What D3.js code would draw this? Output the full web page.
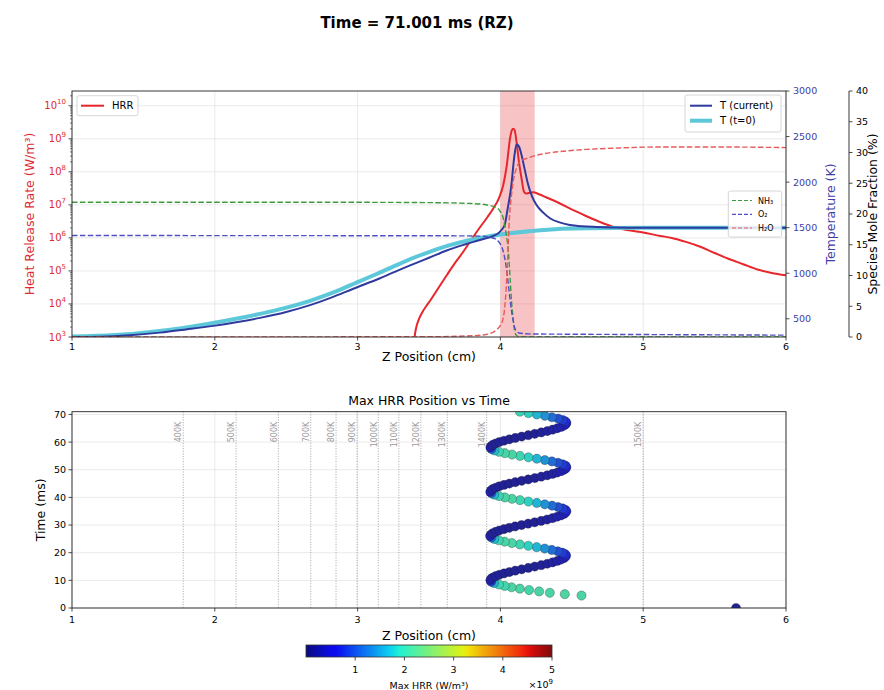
<!DOCTYPE html>
<html><head><meta charset="utf-8">
<script src="https://cdn.jsdelivr.net/npm/d3@7"></script>
<style>body{margin:0;background:#fff;} text{font-family:"DejaVu Sans",sans-serif;}</style>
</head><body><svg id="c" width="884" height="690"></svg>
<script>
// ---------------- DATA ----------------
const zHRR = [3.3995,3.400,3.403,3.408,3.415,3.425,3.44,3.46,3.48,3.51,3.56,3.624,3.68,3.74,3.80,3.857,3.91,3.95,3.99,4.02,4.045,4.067,4.08,4.09,4.10,4.113,4.13,4.148,4.165,4.18,4.20,4.23,4.27,4.32,4.40,4.51,4.60,4.70,4.80,4.90,5.00,5.12,5.20,5.30,5.40,5.50,5.60,5.70,5.80,5.90,6.00];
const hrrVal = [7e2,1e3,1.3e3,1.75e3,2.3e3,3.1e3,4.4e3,6.3e3,8.5e3,1.3e4,2.8e4,7.4e4,1.7e5,3.8e5,9.3e5,2.1e6,4.3e6,7.8e6,1.6e7,4.0e7,1.6e8,1.0e9,1.8e9,2.0e9,1.8e9,8.1e8,2.0e8,6.3e7,2.5e7,2.2e7,2.3e7,2.4e7,2.1e7,1.7e7,1.2e7,6.9e6,4.6e6,3.0e6,2.1e6,1.7e6,1.45e6,1.15e6,1.0e6,7.6e5,5.4e5,3.5e5,2.3e5,1.6e5,1.1e5,8.7e4,7.4e4];

const zTcur = [1.0,1.2,1.4,1.616,1.8,1.99,2.15,2.316,2.5,2.667,2.82,2.97,3.157,3.297,3.39,3.5,3.624,3.75,3.857,3.95,3.985,4.01,4.03,4.05,4.077,4.095,4.113,4.13,4.148,4.17,4.195,4.22,4.253,4.3,4.347,4.42,4.487,4.57,4.67,4.8,5.0,6.0];
const tCur = [300,303,318,348,383,422,462,510,575,650,735,830,945,1040,1100,1170,1250,1315,1365,1410,1438,1480,1529,1700,1968,2250,2415,2390,2298,2140,1968,1850,1749,1665,1603,1555,1529,1515,1508,1503,1500,1500];

const zT0 = [1.0,1.3,1.779,2.149,2.445,2.672,2.849,2.996,3.145,3.289,3.443,3.628,3.904,4.2,4.5,5.0,6.0];
const tInit = [305,322,400,500,600,700,800,900,1000,1100,1200,1300,1400,1460,1490,1500,1500];

const zNH3 = [1.0,3.0,3.5,3.8,3.9,3.974,4.0,4.02,4.04,4.056,4.068,4.078,4.09,4.1,4.115,4.14,6.0];
const nh3 = [21.9,21.9,21.85,21.7,21.5,21.0,20.4,19.3,16.8,13.9,9.5,5.8,2.8,0.9,0.2,0.02,0.0];
const zO2 = [1.0,3.7,3.857,3.93,3.974,4.0,4.02,4.04,4.056,4.068,4.078,4.09,4.1,4.115,4.13,4.2,4.5,5.0,6.0];
const o2 = [16.5,16.45,16.4,16.2,15.8,15.1,13.9,11.5,8.5,6.0,4.2,2.6,1.5,0.9,0.65,0.5,0.45,0.4,0.3];
const zH2O = [1.0,3.5,3.8,3.9,3.974,4.0,4.02,4.032,4.042,4.052,4.063,4.075,4.09,4.11,4.137,4.18,4.23,4.33,4.44,4.6,4.79,5.12,5.5,6.0];
const h2o = [0.0,0.05,0.2,0.4,1.2,1.9,3.1,5.2,8.5,13.5,19.3,22.5,25.3,27.3,28.5,29.0,29.4,29.9,30.2,30.5,30.7,30.9,30.9,30.8];

const bandZ = [4.0, 4.24];

const isoLabels = ["400K","500K","600K","700K","800K","900K","1000K","1100K","1200K","1300K","1400K","1500K"];
const isoZ = [1.779,2.149,2.445,2.672,2.849,2.996,3.145,3.289,3.443,3.628,3.904,5.0];

const scatT = [0,
 4.5,5.0,5.5,6.0,6.5,7.0,7.5,8.0,8.5,9.0,9.5,
 10.0,10.5,11.0,11.5,12.0,12.5,13.0,13.5,14.0,14.5,15.0,15.5,16.0,16.5,17.0,17.5,18.0,18.5,
 19.0,19.5,20.0,20.5,21.0,21.5,22.0,22.5,23.0,23.5,24.0,24.5,25.0,25.5,
 26.0,26.5,27.0,27.5,28.0,28.5,29.0,29.5,30.0,30.5,31.0,31.5,32.0,32.5,33.0,33.5,34.0,34.5,
 35.0,35.5,36.0,36.5,37.0,37.5,38.0,38.5,39.0,39.5,40.0,40.5,41.0,41.5,
 42.0,42.5,43.0,43.5,44.0,44.5,45.0,45.5,46.0,46.5,47.0,47.5,48.0,48.5,49.0,49.5,50.0,50.5,
 51.0,51.5,52.0,52.5,53.0,53.5,54.0,54.5,55.0,55.5,56.0,56.5,57.0,57.5,
 58.0,58.5,59.0,59.5,60.0,60.5,61.0,61.5,62.0,62.5,63.0,63.5,64.0,64.5,65.0,65.5,66.0,66.5,
 67.0,67.5,68.0,68.5,69.0,69.5,70.0,70.5,71.0];
const scatZ = [5.65,
 4.568,4.451,4.346,4.271,4.201,4.136,4.078,4.030,3.990,3.955,3.935,
 3.930,3.934,3.946,3.966,3.992,4.025,4.063,4.104,4.149,4.195,4.241,4.286,4.328,4.365,4.398,4.424,4.444,4.456,
 4.460,4.453,4.434,4.402,4.360,4.310,4.254,4.195,4.136,4.080,4.030,3.988,3.957,3.937,
 3.928,3.933,3.945,3.965,3.991,4.024,4.062,4.103,4.148,4.194,4.240,4.285,4.327,4.364,4.397,4.424,4.445,4.457,
 4.462,4.455,4.436,4.404,4.362,4.311,4.255,4.196,4.137,4.081,4.031,3.989,3.957,3.937,
 3.929,3.934,3.946,3.966,3.992,4.025,4.063,4.104,4.149,4.195,4.241,4.286,4.328,4.365,4.398,4.425,4.446,4.458,
 4.462,4.455,4.436,4.404,4.361,4.311,4.255,4.196,4.137,4.081,4.031,3.989,3.958,3.938,
 3.930,3.934,3.946,3.966,3.992,4.025,4.063,4.104,4.149,4.195,4.241,4.286,4.328,4.365,4.398,4.425,4.446,4.458,
 4.462,4.455,4.436,4.404,4.361,4.311,4.255,4.196,4.137];
const scatHRR = [0.2e9,
 2.1e9,2.15e9,2.1e9,2.1e9,2.05e9,2.1e9,2.1e9,2.05e9,2.0e9,1.6e9,0.9e9,
 0.5e9,0.35e9,0.25e9,0.2e9,0.18e9,0.17e9,0.16e9,0.16e9,0.16e9,0.17e9,0.18e9,0.2e9,0.22e9,0.25e9,0.3e9,0.35e9,0.42e9,0.5e9,
 0.6e9,0.7e9,0.8e9,0.95e9,1.15e9,1.4e9,1.65e9,1.85e9,2.0e9,2.1e9,2.1e9,2.0e9,1.7e9,1.1e9,
 0.5e9,0.35e9,0.25e9,0.2e9,0.18e9,0.17e9,0.16e9,0.16e9,0.16e9,0.17e9,0.18e9,0.2e9,0.22e9,0.25e9,0.3e9,0.35e9,0.42e9,0.5e9,
 0.6e9,0.7e9,0.8e9,0.95e9,1.15e9,1.4e9,1.65e9,1.85e9,2.0e9,2.1e9,2.1e9,2.0e9,1.7e9,1.1e9,
 0.5e9,0.35e9,0.25e9,0.2e9,0.18e9,0.17e9,0.16e9,0.16e9,0.16e9,0.17e9,0.18e9,0.2e9,0.22e9,0.25e9,0.3e9,0.35e9,0.42e9,0.5e9,
 0.6e9,0.7e9,0.8e9,0.95e9,1.15e9,1.4e9,1.65e9,1.85e9,2.0e9,2.1e9,2.1e9,2.0e9,1.7e9,1.1e9,
 0.5e9,0.35e9,0.25e9,0.2e9,0.18e9,0.17e9,0.16e9,0.16e9,0.16e9,0.17e9,0.18e9,0.2e9,0.22e9,0.25e9,0.3e9,0.35e9,0.42e9,0.5e9,
 0.6e9,0.7e9,0.8e9,0.95e9,1.15e9,1.4e9,1.65e9,1.85e9,2.0e9];

const xTicks = [1,2,3,4,5,6];
const hrrDecades = [3,4,5,6,7,8,9,10];
const tempTicks = [500,1000,1500,2000,2500,3000];
const speciesTicks = [0,5,10,15,20,25,30,35,40];
const timeTicks = [0,10,20,30,40,50,60,70];
const cbTicks = [1e9,2e9,3e9,4e9,5e9];
const cbTickLabels = ["1","2","3","4","5"];

// ---------------- CHART ----------------
const svg = d3.select("#c");
const P1 = {l:72, r:786, t:91, b:337};
const P2 = {l:72, r:786, t:411.7, b:608};
const C_HRR = "#e8262b", C_HRR_TXT = "#dd2a30";
const C_TC = "#2e3a9e", C_T_TXT = "#3d3da8";
const C_T0 = "#5cc8d9";
const C_NH3 = "#3c9c3c", C_O2 = "#5050c4", C_H2O = "#e85a5a";
const GRID = "#e4e4e4";

const x1 = d3.scaleLinear().domain([1,6]).range([P1.l,P1.r]);
const yH = d3.scaleLog().domain([1e3,2.8e10]).range([P1.b,P1.t]);
const yT = d3.scaleLinear().domain([300,3000]).range([P1.b,P1.t]);
const yS = d3.scaleLinear().domain([0,40]).range([P1.b,P1.t]);
const x2 = d3.scaleLinear().domain([1,6]).range([P2.l,P2.r]);
const yt = d3.scaleLinear().domain([0,71.001]).range([P2.b,P2.t]);
const cb = d3.scaleLinear().domain([0,5e9]).range([306,552]);

const defs = svg.append("defs");
defs.append("clipPath").attr("id","cp1").append("rect")
  .attr("x",P1.l).attr("y",P1.t).attr("width",P1.r-P1.l).attr("height",P1.b-P1.t);
defs.append("clipPath").attr("id","cp2").append("rect")
  .attr("x",P2.l).attr("y",P2.t).attr("width",P2.r-P2.l).attr("height",P2.b-P2.t);

svg.append("text").attr("x",417).attr("y",28).attr("text-anchor","middle")
  .style("font-weight","bold").style("font-size","15px").text("Time = 71.001 ms (RZ)");

// ===== TOP PANEL =====
const g1 = svg.append("g");
g1.selectAll(".vg").data(xTicks).enter().append("line")
  .attr("x1",d=>x1(d)).attr("x2",d=>x1(d)).attr("y1",P1.t).attr("y2",P1.b)
  .attr("stroke",GRID).attr("stroke-width",0.8);
g1.selectAll(".hg").data(hrrDecades).enter().append("line")
  .attr("x1",P1.l).attr("x2",P1.r).attr("y1",d=>yH(Math.pow(10,d))).attr("y2",d=>yH(Math.pow(10,d)))
  .attr("stroke",GRID).attr("stroke-width",0.8);
g1.append("rect").attr("x",x1(bandZ[0])).attr("width",x1(bandZ[1])-x1(bandZ[0]))
  .attr("y",P1.t).attr("height",P1.b-P1.t).attr("fill","#e8383f").attr("fill-opacity",0.3);

const plot1 = g1.append("g").attr("clip-path","url(#cp1)");
function mkLine(xs, ys, ysc){
  return d3.line().x((d,i)=>x1(xs[i])).y((d,i)=>ysc(ys[i])).curve(d3.curveMonotoneX)(xs);
}
plot1.append("path").attr("d",mkLine(zHRR,hrrVal,yH)).attr("fill","none").attr("stroke",C_HRR).attr("stroke-width",2);
plot1.append("path").attr("d",mkLine(zT0,tInit,yT)).attr("fill","none").attr("stroke",C_T0).attr("stroke-width",4);
plot1.append("path").attr("d",mkLine(zTcur,tCur,yT)).attr("fill","none").attr("stroke",C_TC).attr("stroke-width",2);
const dash = "5.5,2.4";
plot1.append("path").attr("d",mkLine(zNH3,nh3,yS)).attr("fill","none").attr("stroke",C_NH3).attr("stroke-width",1.4).attr("stroke-dasharray",dash);
plot1.append("path").attr("d",mkLine(zO2,o2,yS)).attr("fill","none").attr("stroke",C_O2).attr("stroke-width",1.4).attr("stroke-dasharray",dash);
plot1.append("path").attr("d",mkLine(zH2O,h2o,yS)).attr("fill","none").attr("stroke",C_H2O).attr("stroke-width",1.4).attr("stroke-dasharray",dash);

g1.append("rect").attr("x",P1.l).attr("y",P1.t).attr("width",P1.r-P1.l).attr("height",P1.b-P1.t)
  .attr("fill","none").attr("stroke","#222").attr("stroke-width",0.9);

xTicks.forEach(v=>{
  g1.append("line").attr("x1",x1(v)).attr("x2",x1(v)).attr("y1",P1.b).attr("y2",P1.b+3.5).attr("stroke","#222").attr("stroke-width",0.8);
  g1.append("text").attr("x",x1(v)).attr("y",P1.b+13).attr("text-anchor","middle").style("font-size","9.5px").text(v);
});
g1.append("text").attr("x",(P1.l+P1.r)/2).attr("y",P1.b+24).attr("text-anchor","middle").style("font-size","12.5px").text("Z Position (cm)");

hrrDecades.forEach(p=>{
  const y = yH(Math.pow(10,p));
  g1.append("line").attr("x1",P1.l-3.5).attr("x2",P1.l).attr("y1",y).attr("y2",y).attr("stroke","#222").attr("stroke-width",0.8);
  const t = g1.append("text").attr("x",P1.l-6).attr("y",y+3.5).attr("text-anchor","end").attr("fill",C_HRR_TXT).style("font-size","10px");
  t.append("tspan").text("10");
  t.append("tspan").attr("dy",-5).style("font-size","7px").text(p);
  for(let m=2;m<=9;m++){
    const v = m*Math.pow(10,p);
    if(v<=2.8e10){
      const ym = yH(v);
      g1.append("line").attr("x1",P1.l-2).attr("x2",P1.l).attr("y1",ym).attr("y2",ym).attr("stroke","#222").attr("stroke-width",0.6);
    }
  }
});
g1.append("text").attr("transform",`translate(34,${(P1.t+P1.b)/2}) rotate(-90)`).attr("text-anchor","middle")
  .attr("fill",C_HRR_TXT).style("font-size","12.5px").text("Heat Release Rate (W/m³)");

tempTicks.forEach(v=>{
  const y = yT(v);
  g1.append("line").attr("x1",P1.r).attr("x2",P1.r+3.5).attr("y1",y).attr("y2",y).attr("stroke","#222").attr("stroke-width",0.8);
  g1.append("text").attr("x",P1.r+7).attr("y",y+3.4).attr("fill",C_T_TXT).style("font-size","9.5px").text(v);
});
g1.append("text").attr("transform",`translate(835,${(P1.t+P1.b)/2}) rotate(-90)`).attr("text-anchor","middle")
  .attr("fill",C_T_TXT).style("font-size","12.5px").text("Temperature (K)");

const sx = 849;
g1.append("line").attr("x1",sx).attr("x2",sx).attr("y1",P1.t).attr("y2",P1.b).attr("stroke","#222").attr("stroke-width",0.9);
speciesTicks.forEach(v=>{
  const y = yS(v);
  g1.append("line").attr("x1",sx).attr("x2",sx+3.5).attr("y1",y).attr("y2",y).attr("stroke","#222").attr("stroke-width",0.8);
  g1.append("text").attr("x",sx+7).attr("y",y+3.4).style("font-size","9.5px").text(v);
});
g1.append("text").attr("transform",`translate(877,${(P1.t+P1.b)/2}) rotate(-90)`).attr("text-anchor","middle")
  .style("font-size","12.5px").text("Species Mole Fraction (%)");

function legendBox(x,y,w,h){
  g1.append("rect").attr("x",x).attr("y",y).attr("width",w).attr("height",h).attr("rx",2)
    .attr("fill","#fff").attr("fill-opacity",0.85).attr("stroke","#cccccc").attr("stroke-width",0.8);
}
legendBox(77,95.7,61,20);
g1.append("line").attr("x1",81).attr("x2",104).attr("y1",105.7).attr("y2",105.7).attr("stroke",C_HRR).attr("stroke-width",2);
g1.append("text").attr("x",112).attr("y",109.3).style("font-size","10px").text("HRR");

legendBox(685,95,96,37);
g1.append("line").attr("x1",690).attr("x2",712).attr("y1",105.7).attr("y2",105.7).attr("stroke",C_TC).attr("stroke-width",2);
g1.append("text").attr("x",720).attr("y",109.3).style("font-size","10px").text("T (current)");
g1.append("line").attr("x1",690).attr("x2",712).attr("y1",120.7).attr("y2",120.7).attr("stroke",C_T0).attr("stroke-width",4);
g1.append("text").attr("x",720).attr("y",124.3).style("font-size","10px").text("T (t=0)");

legendBox(728.3,191,53.4,46);
[["NH₃",C_NH3,200.5],["O₂",C_O2,214.3],["H₂O",C_H2O,228]].forEach(r=>{
  g1.append("line").attr("x1",732).attr("x2",752).attr("y1",r[2]).attr("y2",r[2]).attr("stroke",r[1]).attr("stroke-width",1.2).attr("stroke-dasharray","4,2");
  g1.append("text").attr("x",758).attr("y",r[2]+3).style("font-size","8px").text(r[0]);
});

// ===== BOTTOM PANEL =====
const g2 = svg.append("g");
xTicks.forEach(v=>{
  g2.append("line").attr("x1",x2(v)).attr("x2",x2(v)).attr("y1",P2.t).attr("y2",P2.b).attr("stroke",GRID).attr("stroke-width",0.8);
});
timeTicks.forEach(v=>{
  g2.append("line").attr("x1",P2.l).attr("x2",P2.r).attr("y1",yt(v)).attr("y2",yt(v)).attr("stroke",GRID).attr("stroke-width",0.8);
});
isoZ.forEach((z,i)=>{
  g2.append("line").attr("x1",x2(z)).attr("x2",x2(z)).attr("y1",P2.t).attr("y2",P2.b)
    .attr("stroke","#999").attr("stroke-width",0.9).attr("stroke-dasharray","1,1.6");
  g2.append("text").attr("transform",`translate(${x2(z)-1.8},${P2.t+10}) rotate(-90)`).attr("text-anchor","end")
    .attr("fill","#999").style("font-size","8px").text(isoLabels[i]);
});
const jr = d3.scaleLinear().domain([0,0.35,0.66,0.89,1]).range([0,0,1,1,0.5]).clamp(true);
const jg = d3.scaleLinear().domain([0,0.125,0.375,0.64,0.91,1]).range([0,0,1,1,0,0]).clamp(true);
const jb = d3.scaleLinear().domain([0,0.11,0.34,0.65,1]).range([0.5,1,1,0,0]).clamp(true);
const jet = t => d3.rgb(jr(t)*255, jg(t)*255, jb(t)*255).formatHex();
const cnorm = d3.scaleLinear().domain([0,5e9]).range([0,1]).clamp(true);
const muted = (t,k) => d3.interpolateRgb(jet(t), "#707070")(k);

const plot2 = g2.append("g").attr("clip-path","url(#cp2)");
plot2.selectAll("circle").data(scatT).enter().append("circle")
  .attr("cx",(d,i)=>x2(scatZ[i])).attr("cy",d=>yt(d)).attr("r",4.6)
  .attr("fill",(d,i)=>muted(cnorm(scatHRR[i]),0.3))
  .attr("stroke","#1a1a1a").attr("stroke-opacity",0.6).attr("stroke-width",0.5);

g2.append("rect").attr("x",P2.l).attr("y",P2.t).attr("width",P2.r-P2.l).attr("height",P2.b-P2.t)
  .attr("fill","none").attr("stroke","#222").attr("stroke-width",0.9);
xTicks.forEach(v=>{
  g2.append("line").attr("x1",x2(v)).attr("x2",x2(v)).attr("y1",P2.b).attr("y2",P2.b+3.5).attr("stroke","#222").attr("stroke-width",0.8);
  g2.append("text").attr("x",x2(v)).attr("y",P2.b+15).attr("text-anchor","middle").style("font-size","9.5px").text(v);
});
timeTicks.forEach(v=>{
  g2.append("line").attr("x1",P2.l-3.5).attr("x2",P2.l).attr("y1",yt(v)).attr("y2",yt(v)).attr("stroke","#222").attr("stroke-width",0.8);
  g2.append("text").attr("x",P2.l-6).attr("y",yt(v)+3.4).attr("text-anchor","end").style("font-size","9.5px").text(v);
});
g2.append("text").attr("x",(P2.l+P2.r)/2).attr("y",P2.b+32).attr("text-anchor","middle").style("font-size","12.5px").text("Z Position (cm)");
g2.append("text").attr("transform",`translate(45,${(P2.t+P2.b)/2}) rotate(-90)`).attr("text-anchor","middle").style("font-size","12.5px").text("Time (ms)");
g2.append("text").attr("x",(P2.l+P2.r)/2).attr("y",P2.t-7).attr("text-anchor","middle").style("font-size","12.5px").text("Max HRR Position vs Time");

const grad = defs.append("linearGradient").attr("id","jetg").attr("x1","0%").attr("x2","100%");
d3.range(0,1.0001,0.02).forEach(t=>grad.append("stop").attr("offset",(t*100)+"%").attr("stop-color",muted(t,0.1)));
svg.append("rect").attr("x",cb(0)).attr("y",645).attr("width",cb(5e9)-cb(0)).attr("height",12)
  .attr("fill","url(#jetg)").attr("stroke","#333").attr("stroke-width",0.8);
cbTicks.forEach((v,i)=>{
  svg.append("line").attr("x1",cb(v)).attr("x2",cb(v)).attr("y1",657).attr("y2",660.5).attr("stroke","#222").attr("stroke-width",0.8);
  svg.append("text").attr("x",cb(v)).attr("y",673).attr("text-anchor","middle").style("font-size","9.5px").text(cbTickLabels[i]);
});
svg.append("text").attr("x",429).attr("y",688.5).attr("text-anchor","middle").style("font-size","9.5px").text("Max HRR (W/m³)");
const ex = svg.append("text").attr("x",553).attr("y",688).attr("text-anchor","end").style("font-size","9.5px");
ex.append("tspan").text("×10");
ex.append("tspan").attr("dy",-4).style("font-size","7px").text("9");
</script></body></html>
